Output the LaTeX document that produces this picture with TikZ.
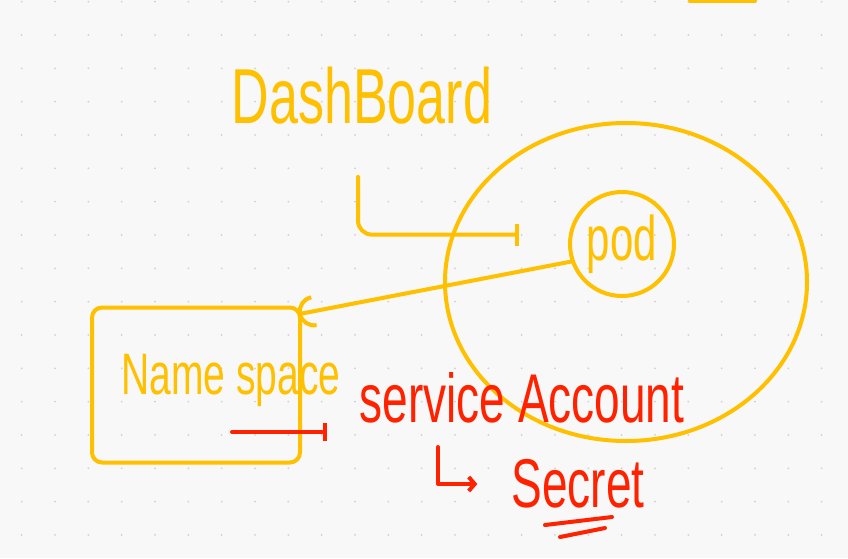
\documentclass[tikz,border=0pt]{standalone}
\usepackage{fontspec}
\setmainfont{Liberation Sans}
\usetikzlibrary{arrows.meta,positioning,calc,shapes.geometric}
\definecolor{penyellow}{HTML}{FFC000}
\definecolor{penred}{HTML}{FF2200}
\definecolor{paper}{HTML}{F8F8F8}
\newcommand{\handsize}[1]{\fontsize{#1}{#1}\selectfont}
\newcommand{\tallhand}[1]{\scalebox{1}[1.5]{#1}}

\begin{document}
\begin{tikzpicture}[x=1pt,y=-1pt,
ink/.style={line width=4pt,line cap=round,line join=round},
yline/.style={ink,draw=penyellow},
rline/.style={ink,draw=penred},
ytext/.style={text=penyellow,inner sep=0pt},
rtext/.style={text=penred,inner sep=0pt},
griddot/.style={fill=black!18}]
\fill[paper] (0,0) rectangle (848,558);
\useasboundingbox (0,0) rectangle (848,558);
\foreach \i in {0,...,24}
  \foreach \j in {0,...,16}
    \fill[griddot] (21.7+33.33*\i,1.67+33.33*\j) circle (1pt);
% stroke cut off at the top edge
\draw[yline] (690,1) -- (755,1);
% shapes
\node[yline,ellipse,minimum width=362pt,minimum height=318pt] (cluster) at (626,282) {};
\node[yline,circle,minimum size=104pt,text=penyellow,font=\handsize{42}] (pod) at (622,244) {\tallhand{pod}};
\node[yline,rectangle,rounded corners=10pt,minimum width=208pt,minimum height=155pt] (ns) at (196,385) {};
% labels
\node[ytext,font=\handsize{52}] (dash) at (362,96) {\tallhand{DashBoard}};
\node[ytext,font=\handsize{39}] (nslabel) at (231,380) {\tallhand{Name space}};
\node[rtext,font=\handsize{46}] (svc) at (522,398) {\tallhand{service Account}};
\node[rtext,font=\handsize{46}] (secret) at (578,484) {\tallhand{Secret}};
\coordinate (nsout) at (232,432);
\coordinate (svcdrop) at (438,447);
% connectors
\draw[yline,rounded corners=14pt,-{Bar[width=22pt]},shorten >=50pt]
  (dash.south -| 358,0) ++(0,52) |- (pod.170);
\draw[yline,-{Arc Barb[scale=1.7]},shorten >=-4pt] (pod.199) -- ([yshift=-8pt]ns.north east);
\draw[rline,-{Bar[width=18pt]},shorten >=32pt] (nsout) -- (nsout -| svc.west);
\draw[rline,-{Straight Barb[length=6pt,width=14pt]},shorten >=34pt] (svcdrop) |- (secret.west);
\draw[rline] (545,525) -- (612,517);
\draw[rline] (560,537) -- (605,528);
\end{tikzpicture}
\end{document}
